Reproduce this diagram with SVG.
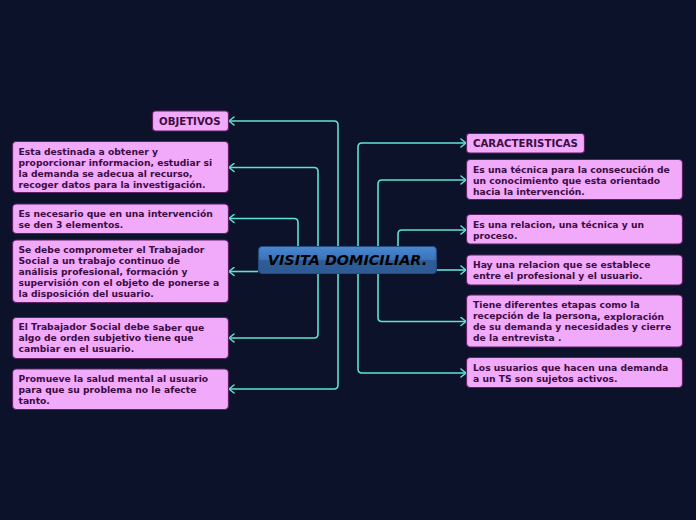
<svg xmlns="http://www.w3.org/2000/svg" width="696" height="520" viewBox="0 0 696 520">
<defs>
<linearGradient id="cg" x1="0" y1="0" x2="0" y2="1">
<stop offset="0" stop-color="#4a88cf"/>
<stop offset="0.5" stop-color="#3a72b8"/>
<stop offset="0.52" stop-color="#2d5c98"/>
<stop offset="1" stop-color="#2e5b94"/>
</linearGradient>
<marker id="ah" viewBox="0 0 10 10" refX="9" refY="5" markerWidth="10" markerHeight="10" markerUnits="userSpaceOnUse" orient="auto">
<path d="M4,1 L9,5 L4,9" fill="none" stroke="#5de3d8" stroke-width="1.6" stroke-linecap="round" stroke-linejoin="round"/>
</marker>
</defs>
<style>
.c{fill:none;stroke:#5de3d8;stroke-width:1.6;marker-end:url(#ah)}
.n rect{fill:#f1a9f9;stroke:#5e1f63;stroke-width:1.2}
.n text{font-family:"DejaVu Sans",Verdana,sans-serif;font-weight:bold;font-size:9.2px;fill:#3c0c42}
.h text{font-size:10.2px}
</style>
<rect width="696" height="520" fill="#0b1229"/>
<g id="connectors">
<path class="c" d="M338,260 V125 Q338,121 334,121 H229"/>
<path class="c" d="M318,260 V171.5 Q318,167.5 314,167.5 H229"/>
<path class="c" d="M298,260 V222.5 Q298,218.5 294,218.5 H229"/>
<path class="c" d="M258,271.5 H229"/>
<path class="c" d="M318,260 V334 Q318,338 314,338 H229"/>
<path class="c" d="M338,260 V385 Q338,389 334,389 H229"/>
<path class="c" d="M358,260 V147 Q358,143 362,143 H466"/>
<path class="c" d="M378,260 V184 Q378,180 382,180 H466"/>
<path class="c" d="M398,260 V234 Q398,230 402,230 H466"/>
<path class="c" d="M437,270 H466"/>
<path class="c" d="M378,260 V317.5 Q378,321.5 382,321.5 H466"/>
<path class="c" d="M358,260 V369 Q358,373 362,373 H466"/>
</g>
<g id="center">
<rect x="258.5" y="246.5" width="178" height="27" rx="4" fill="url(#cg)" stroke="#244a7c" stroke-width="1.2"/>
<text x="347.5" y="265" text-anchor="middle" font-family="DejaVu Sans,Verdana,sans-serif" font-weight="bold" font-style="italic" font-size="14.4px" fill="#000">VISITA DOMICILIAR.</text>
</g>
<g id="objetivos" class="n h">
<rect x="152.5" y="111" width="76" height="20" rx="3"/>
<text x="159" y="125">OBJETIVOS</text>
</g>
<g id="l1" class="n">
<rect x="12.5" y="141.5" width="216" height="51" rx="4"/>
<text x="18.5" y="155">Esta destinada a obtener y</text>
<text x="18.5" y="166">proporcionar informacion, estudiar si</text>
<text x="18.5" y="177">la demanda se adecua al recurso,</text>
<text x="18.5" y="188">recoger datos para la investigación.</text>
</g>
<g id="l2" class="n">
<rect x="12.5" y="204" width="216" height="29.5" rx="4"/>
<text x="18.5" y="217">Es necesario que en una intervención</text>
<text x="18.5" y="228">se den 3 elementos.</text>
</g>
<g id="l3" class="n">
<rect x="12.5" y="240" width="216" height="62.5" rx="4"/>
<text x="18.5" y="252.5">Se debe comprometer el Trabajador</text>
<text x="18.5" y="263.5">Social a un trabajo continuo de</text>
<text x="18.5" y="274.5">análisis profesional, formación y</text>
<text x="18.5" y="285.5">supervisión con el objeto de ponerse a</text>
<text x="18.5" y="296.5">la disposición del usuario.</text>
</g>
<g id="l4" class="n">
<rect x="12.5" y="317.5" width="216" height="41" rx="4"/>
<text x="18.5" y="330">El Trabajador Social debe s<tspan dy="1">aber que</tspan></text>
<text x="18.5" y="341">algo de orden subjetivo tiene que</text>
<text x="18.5" y="352">cambiar en el usuario.</text>
</g>
<g id="l5" class="n">
<rect x="12.5" y="369" width="216" height="40.5" rx="4"/>
<text x="18.5" y="382">Promueve la salud mental al usuario</text>
<text x="18.5" y="393">para que su problema no le afecte</text>
<text x="18.5" y="404">tanto.</text>
</g>
<g id="caracteristicas" class="n h">
<rect x="466.5" y="133.5" width="118" height="19.5" rx="3"/>
<text x="473" y="147">CARACTERISTICAS</text>
</g>
<g id="r1" class="n">
<rect x="466.5" y="159.5" width="216" height="40" rx="4"/>
<text x="473" y="172.5">Es una técnica para la consecución de</text>
<text x="473" y="183.5">un conocimiento que esta orientado</text>
<text x="473" y="194.5">hacia la intervención.</text>
</g>
<g id="r2" class="n">
<rect x="466.5" y="214.5" width="216" height="29.5" rx="4"/>
<text x="473" y="227.5">Es una relacion, una técnica y un</text>
<text x="473" y="238.5">proceso.</text>
</g>
<g id="r3" class="n">
<rect x="466.5" y="255" width="216" height="30" rx="4"/>
<text x="473" y="268">Hay una relacion que se establece</text>
<text x="473" y="279">entre el profesional y el usuario.</text>
</g>
<g id="r4" class="n">
<rect x="466.5" y="295" width="216" height="52" rx="4"/>
<text x="473" y="308">Tiene diferentes etapas como la</text>
<text x="473" y="319">recepción de la person<tspan dy="1">a, exploración</tspan></text>
<text x="473" y="330">de su demanda y necesidades y cierre</text>
<text x="473" y="341">de la entrevista .</text>
</g>
<g id="r5" class="n">
<rect x="466.5" y="357.5" width="216" height="30" rx="4"/>
<text x="473" y="370.5">Los usuarios que hacen una demanda</text>
<text x="473" y="381.5">a un TS son sujetos activos.</text>
</g>
</svg>
